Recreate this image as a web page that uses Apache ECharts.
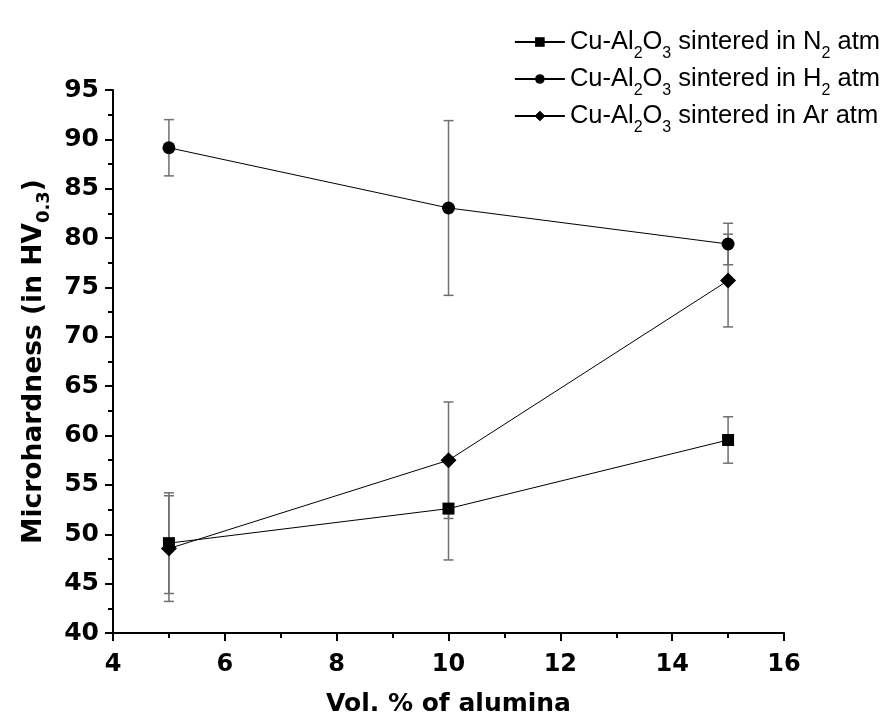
<!DOCTYPE html>
<html>
<head>
<meta charset="utf-8">
<script src="https://cdn.jsdelivr.net/npm/echarts@6/dist/echarts.min.js"></script>
<style>
  html, body { margin: 0; padding: 0; background: #fff; }
  #chart { width: 885px; height: 722px; }
</style>
</head>
<body>
<div id="chart"></div>
<script>
// Alumina content (vol. %)
const alumina = [5, 10, 15];

// Microhardness means and errors for each sintering atmosphere
const n2Mean = [49.1, 52.6, 59.55];
const n2Err  = [5.1, 5.2, 2.35];
const h2Mean = [89.15, 83.05, 79.4];
const h2Err  = [2.85, 8.85, 2.1];
const arMean = [48.55, 57.5, 75.7];
const arErr  = [5.35, 5.9, 4.7];

// Series names as rich text with subscripts
const seriesNames = ['N2', 'H2', 'Ar'];
const legendRich = {
  N2: '{t|Cu-Al}{s|2}{t|O}{s|3}{t| sintered in N}{s|2}{t| atm}',
  H2: '{t|Cu-Al}{s|2}{t|O}{s|3}{t| sintered in H}{s|2}{t| atm}',
  Ar: '{t|Cu-Al}{s|2}{t|O}{s|3}{t| sintered in Ar atm}'
};

const SANS = '"Liberation Sans", Arial, sans-serif';
const BOLD = '"DejaVu Sans", sans-serif';

function points(means) {
  return alumina.map((x, i) => [x, means[i]]);
}
function bars(means, errs) {
  return alumina.map((x, i) => [x, means[i] - errs[i], means[i] + errs[i]]);
}

function errorBarSeries(means, errs) {
  return {
    type: 'custom',
    data: bars(means, errs),
    z: 1,
    silent: true,
    renderItem: function (params, api) {
      const x = api.value(0);
      const top = api.coord([x, api.value(2)]);
      const bot = api.coord([x, api.value(1)]);
      const cap = 5;
      const style = { stroke: '#707070', lineWidth: 1.5 };
      return {
        type: 'group',
        children: [
          { type: 'line', shape: { x1: top[0], y1: top[1], x2: bot[0], y2: bot[1] }, style: style },
          { type: 'line', shape: { x1: top[0] - cap, y1: top[1], x2: top[0] + cap, y2: top[1] }, style: style },
          { type: 'line', shape: { x1: bot[0] - cap, y1: bot[1], x2: bot[0] + cap, y2: bot[1] }, style: style }
        ]
      };
    }
  };
}

function lineSeries(name, means, symbol, size) {
  return {
    name: name,
    type: 'line',
    data: points(means),
    symbol: symbol,
    symbolSize: size,
    z: 3,
    lineStyle: { color: '#000', width: 1 },
    itemStyle: { color: '#000' }
  };
}

const axisCommon = {
  axisLine: { show: true, lineStyle: { color: '#000', width: 2 } },
  axisTick: { show: true, inside: false, length: 8, lineStyle: { color: '#000', width: 2 } },
  minorTick: { show: true, splitNumber: 2, length: 5, lineStyle: { color: '#000', width: 2 } },
  splitLine: { show: false }
};

const chart = echarts.init(document.getElementById('chart'), null, { renderer: 'canvas' });

chart.setOption({
  animation: false,
  backgroundColor: '#fff',
  grid: { left: 113, right: 101, top: 90, bottom: 89, containLabel: false },
  legend: {
    orient: 'vertical',
    right: 0,
    top: 24,
    itemWidth: 50,
    itemHeight: 12,
    itemGap: 4,
    data: [
      { name: 'N2' },
      { name: 'H2' },
      { name: 'Ar', itemStyle: { borderWidth: 1, borderColor: '#000' } }
    ],
    formatter: function (name) { return legendRich[name]; },
    textStyle: {
      color: '#000',
      rich: {
        t: { fontFamily: SANS, fontSize: 25.5, color: '#000', lineHeight: 26, verticalAlign: 'bottom' },
        s: { fontFamily: SANS, fontSize: 16, color: '#000', lineHeight: 26, verticalAlign: 'bottom', padding: [0, 0, -7, 0] }
      }
    }
  },
  xAxis: Object.assign({
    type: 'value',
    min: 4,
    max: 16,
    interval: 2,
    name: 'Vol. % of alumina',
    nameLocation: 'middle',
    nameGap: 59,
    nameTextStyle: { fontFamily: BOLD, fontWeight: 'bold', fontSize: 25, color: '#000' },
    axisLabel: { fontFamily: BOLD, fontWeight: 'bold', fontSize: 24, color: '#000', margin: 20 }
  }, axisCommon),
  yAxis: Object.assign({
    type: 'value',
    min: 40,
    max: 95,
    interval: 5,
    name: '{b|Microhardness (in HV}{bs|0.3}{b|)}',
    nameLocation: 'middle',
    nameRotate: 90,
    nameGap: 62,
    nameTextStyle: {
      rich: {
        b: { fontFamily: BOLD, fontWeight: 'bold', fontSize: 26.5, color: '#000', lineHeight: 30, verticalAlign: 'bottom' },
        bs: { fontFamily: BOLD, fontWeight: 'bold', fontSize: 18, color: '#000', lineHeight: 30, verticalAlign: 'bottom', padding: [0, 0, -6, 0] }
      }
    },
    axisLabel: { fontFamily: BOLD, fontWeight: 'bold', fontSize: 25, color: '#000', margin: 14 }
  }, axisCommon),
  series: [
    errorBarSeries(n2Mean, n2Err),
    errorBarSeries(h2Mean, h2Err),
    errorBarSeries(arMean, arErr),
    lineSeries('N2', n2Mean, 'rect', 12),
    lineSeries('H2', h2Mean, 'circle', 13),
    lineSeries('Ar', arMean, 'diamond', 16)
  ]
});
</script>
</body>
</html>
